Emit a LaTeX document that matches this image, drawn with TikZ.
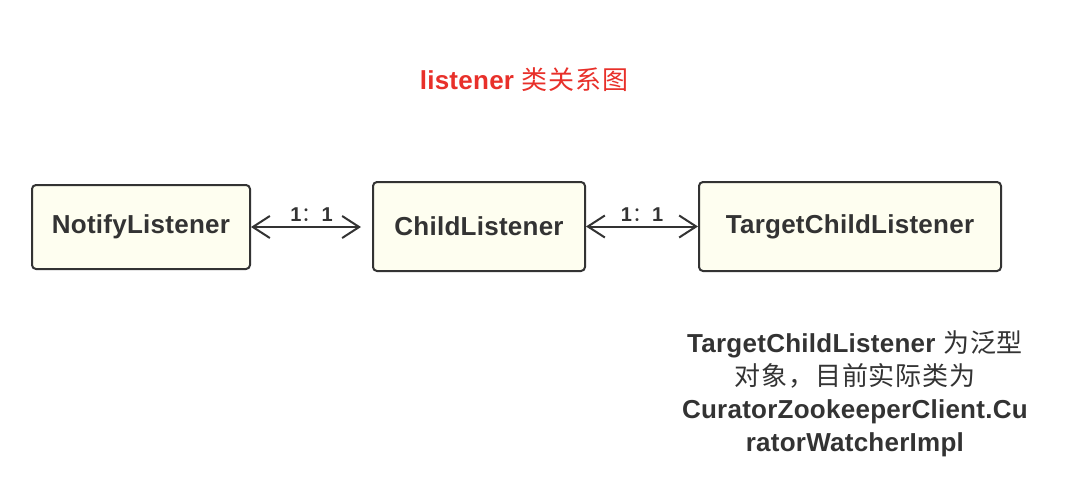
\documentclass[tikz,border=0pt]{standalone}
\usepackage{fontspec}
\setmainfont{Liberation Sans}[LetterSpace=1]
\newfontfamily\cjk{Noto Sans CJK SC}[LetterSpace=3]
\usetikzlibrary{arrows.meta}
\definecolor{boxfill}{HTML}{FEFEF0}
\definecolor{ink}{HTML}{333333}
\definecolor{titlered}{HTML}{E8302A}
\tikzset{
    classbox/.style={draw=ink, line width=2pt, fill=boxfill, rounded corners=4pt,
        text=ink, font=\fontsize{26}{31}\selectfont\bfseries, inner sep=0pt},
    link/.style={draw=ink, line width=2pt, {Straight Barb[length=17pt,width=22pt,line width=2pt]}-{Straight Barb[length=17pt,width=22pt,line width=2pt]}},
    ratio/.style={text=ink, font=\fontsize{20}{24}\selectfont\bfseries, inner sep=2pt}
}
\begin{document}
\begin{tikzpicture}[x=1pt,y=-1pt]
    \useasboundingbox (0,0) rectangle (1068,498);

    \node[text=titlered, font=\fontsize{26}{31}\selectfont] (title) at (524,80)
        {\textbf{listener} {\cjk 类关系图}};

    \node[classbox, minimum width=218pt, minimum height=84pt] (notify) at (141,227) {NotifyListener};
    \node[classbox, minimum width=212pt, minimum height=89pt] (child) at (479,226.5) {ChildListener};
    \node[classbox, minimum width=302pt, minimum height=89pt] (target) at (850,226.5) {TargetChildListener};

    \draw[link, shorten >=11pt] (notify.east) -- (child.west |- notify.east)
        node[ratio, midway, above, yshift=2pt] {1{\cjk\mdseries ：}1};
    \draw[link] (child.east) -- (target.west)
        node[ratio, midway, above, yshift=2pt] {1{\cjk\mdseries ：}1};

    % note below the target class
    \node[text=ink, align=center, font=\fontsize{26}{33}\selectfont] (note) at (855,394)
        {\textbf{TargetChildListener} {\cjk 为泛型}\\
         {\cjk 对象，目前实际类为}\\
         \textbf{CuratorZookeeperClient.Cu}\\
         \textbf{ratorWatcherImpl}};
\end{tikzpicture}
\end{document}
